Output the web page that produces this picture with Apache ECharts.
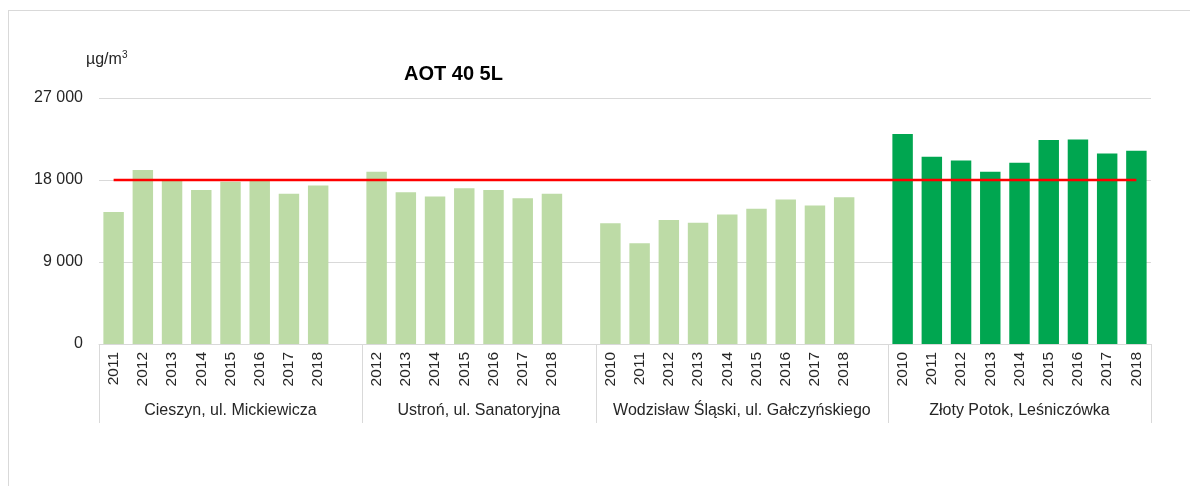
<!DOCTYPE html>
<html>
<head>
<meta charset="utf-8">
<script src="https://cdn.jsdelivr.net/npm/echarts@6/dist/echarts.min.js"></script>
<style>
  html, body { margin: 0; padding: 0; background: #fff; }
  #frame {
    position: absolute; left: 8px; top: 10px; width: 1182px; height: 476px;
    border-top: 1px solid #d9d9d9; border-left: 1px solid #d9d9d9;
  }
  #chart { position: absolute; left: 0; top: 0; width: 1190px; height: 486px; }
</style>
</head>
<body>
<div id="frame"></div>
<div id="chart"></div>
<script>
  // stacje i lata (pusta kategoria na końcu grupy = przerwa)
  const groups = ['Cieszyn, ul. Mickiewicza', 'Ustroń, ul. Sanatoryjna',
    'Wodzisław Śląski, ul. Gałczyńskiego', 'Złoty Potok, Leśniczówka'];
  const yearsCieszyn = ['2011', '2012', '2013', '2014', '2015', '2016', '2017', '2018'];
  const yearsUstron = ['2012', '2013', '2014', '2015', '2016', '2017', '2018'];
  const yearsWodzislaw = ['2010', '2011', '2012', '2013', '2014', '2015', '2016', '2017', '2018'];
  const yearsZloty = ['2010', '2011', '2012', '2013', '2014', '2015', '2016', '2017', '2018'];

  // AOT 40 5L, µg/m3
  const valCieszyn = [14500, 19100, 17900, 16900, 17800, 17900, 16500, 17400];
  const valUstron = [18900, 16650, 16200, 17100, 16900, 16000, 16500];
  const valWodzislaw = [13250, 11050, 13600, 13300, 14200, 14850, 15850, 15200, 16100];
  const valZloty = [23050, 20550, 20150, 18900, 19900, 22400, 22450, 20900, 21200];

  const targetValue = 18000;
  const yTicks = [0, 9000, 18000, 27000];

  const categories = [].concat(yearsCieszyn, [''], yearsUstron, [''], yearsWodzislaw, [''], yearsZloty);
  const lightData = [].concat(valCieszyn, [null], valUstron, [null], valWodzislaw, [null],
    yearsZloty.map(() => null));
  const darkData = [].concat(yearsCieszyn.map(() => null), [null], yearsUstron.map(() => null), [null],
    yearsWodzislaw.map(() => null), [null], valZloty);
  const lineData = categories.map(() => targetValue);

  // granice i środki grup w jednostkach kategorii
  const sizes = [yearsCieszyn.length + 1, yearsUstron.length + 1, yearsWodzislaw.length + 1, yearsZloty.length];
  const bounds = [0];
  sizes.forEach(s => bounds.push(bounds[bounds.length - 1] + s));
  const centers = sizes.map((s, i) => bounds[i] + s / 2);

  const font = 'Liberation Sans, Arial, sans-serif';
  const chart = echarts.init(document.getElementById('chart'));

  chart.setOption({
    animation: false,
    textStyle: { fontFamily: font },
    title: [
      {
        text: 'AOT 40 5L', left: 399, top: 59,
        textStyle: { fontSize: 20, fontWeight: 'bold', color: '#000', fontFamily: font }
      },
      {
        text: '{a|µg/m}{s|3}', left: 81, top: 45,
        textStyle: {
          rich: {
            a: { fontSize: 16, fontWeight: 'normal', color: '#262626', fontFamily: font },
            s: { fontSize: 10, fontWeight: 'normal', color: '#262626', fontFamily: font,
                 verticalAlign: 'top', padding: [0, 0, 9, 0] }
          }
        }
      }
    ],
    grid: { left: 99, right: 39, top: 98, bottom: 142 },
    xAxis: [
      {
        type: 'category',
        data: categories,
        axisLine: { lineStyle: { color: '#d9d9d9' } },
        axisTick: { show: false },
        axisLabel: { rotate: 90, interval: 0, fontSize: 15.5, color: '#262626', margin: 8 }
      },
      {
        type: 'value',
        min: 0, max: bounds[bounds.length - 1],
        position: 'bottom',
        offset: 79,
        splitLine: { show: false },
        axisLine: { show: false },
        axisTick: {
          show: true, inside: true, length: 79, customValues: bounds,
          lineStyle: { color: '#d9d9d9' }
        },
        axisLabel: {
          customValues: centers,
          margin: -20,
          fontSize: 16, color: '#262626',
          formatter: v => groups[centers.indexOf(v)] || ''
        }
      }
    ],
    yAxis: {
      type: 'value',
      min: yTicks[0], max: yTicks[yTicks.length - 1], interval: 9000,
      axisLine: { show: false },
      axisTick: { show: false },
      splitLine: { lineStyle: { color: '#d9d9d9' } },
      axisLabel: {
        fontSize: 16, color: '#262626', margin: 16,
        formatter: v => String(v).replace(/\B(?=(\d{3})+(?!\d))/g, ' ')
      }
    },
    series: [
      {
        type: 'bar', stack: 'all', data: lightData, barWidth: '70%',
        itemStyle: { color: '#bddba6' }
      },
      {
        type: 'bar', stack: 'all', data: darkData, barWidth: '70%',
        itemStyle: { color: '#00a650' }
      },
      {
        type: 'line', data: lineData, symbol: 'none', z: 5,
        lineStyle: { color: '#ff0000', width: 2.5 }
      }
    ]
  });
</script>
</body>
</html>
